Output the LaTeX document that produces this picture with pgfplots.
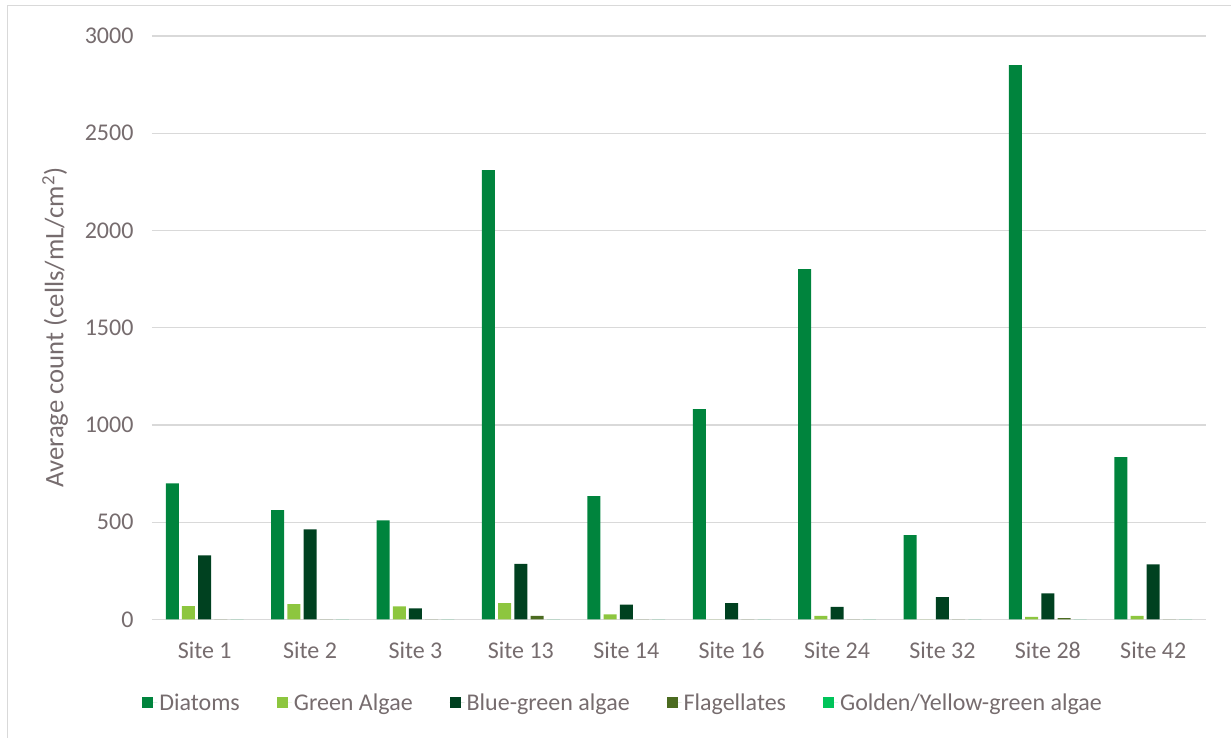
\documentclass[border=0pt]{standalone}
\usepackage{fontspec}
\setmainfont{Carlito}
\usepackage{pgfplots}
\pgfplotsset{compat=1.18}

\definecolor{diatom}{RGB}{0,132,61}
\definecolor{greenalg}{RGB}{141,198,63}
\definecolor{bluegreen}{RGB}{0,65,32}
\definecolor{flagel}{RGB}{75,107,32}
\definecolor{golden}{RGB}{0,196,90}
\definecolor{txt}{RGB}{118,108,110}
\definecolor{gridc}{RGB}{217,217,217}

\newcommand{\chartfont}{\fontsize{24}{29}\selectfont}
\newcommand{\titlefont}{\fontsize{26.7}{32}\selectfont}

\begin{document}
\begin{tikzpicture}[x=1pt,y=1pt]
\useasboundingbox (0,0) rectangle (1231,738);
% chart-area border (top and left edges)
\draw[gridc, line width=1pt] (7,0) -- (7,732) -- (1231,732);
\begin{axis}[
  at={(152pt,118.5pt)}, anchor=south west,
  scale only axis, width=1054pt, height=583.5pt,
  xmin=-0.5, xmax=9.5, ymin=0, ymax=3000,
  xtick={0,...,9},
  xticklabels={Site 1,Site 2,Site 3,Site 13,Site 14,Site 16,Site 24,Site 32,Site 28,Site 42},
  ytick={0,500,...,3000},
  /pgf/number format/1000 sep={},
  /pgf/number format/assume math mode=true,
  axis line style={draw=none},
  tick style={draw=none},
  ymajorgrids, major grid style={gridc, line width=1.2pt},
  ticklabel style={font=\chartfont, text=txt},
  xticklabel style={yshift=-15pt},
  yticklabel style={xshift=-15pt},
  ylabel={Average count (cells/mL/cm\textsuperscript{2})},
  ylabel style={font=\titlefont, text=txt, at={(axis description cs:-0.092,0.5)}, anchor=center},
  ybar=3.2pt, bar width=13pt,
  legend columns=5,
  legend style={draw=none, fill=none, font=\chartfont, text=txt,
    at={(axis description cs:0.447,-0.143)}, anchor=center,
    /tikz/every even column/.append style={column sep=35pt}},
  legend image code/.code={\fill[#1] (0pt,-5.5pt) rectangle (11pt,5.5pt);
    \path (0pt,0pt) -- (15pt,0pt);},
]
\addplot[fill=diatom, draw=none] coordinates
  {(0,700) (1,562) (2,510) (3,2310) (4,634) (5,1082) (6,1801) (7,434) (8,2850) (9,835)};
\addplot[fill=greenalg, draw=none] coordinates
  {(0,69) (1,79) (2,67) (3,84) (4,26) (5,0) (6,19) (7,0) (8,14) (9,19)};
\addplot[fill=bluegreen, draw=none] coordinates
  {(0,330) (1,463) (2,57) (3,286) (4,76) (5,84) (6,65) (7,115) (8,134) (9,283)};
\addplot[fill=flagel, draw=none] coordinates
  {(0,0) (1,0) (2,0) (3,19) (4,0) (5,0) (6,0) (7,0) (8,7) (9,0)};
\addplot[fill=golden, draw=none] coordinates
  {(0,0) (1,0) (2,0) (3,0) (4,0) (5,0) (6,0) (7,0) (8,0) (9,0)};
\legend{Diatoms,Green Algae,Blue-green algae,Flagellates,Golden/Yellow-green algae}
\end{axis}
\end{tikzpicture}
\end{document}
